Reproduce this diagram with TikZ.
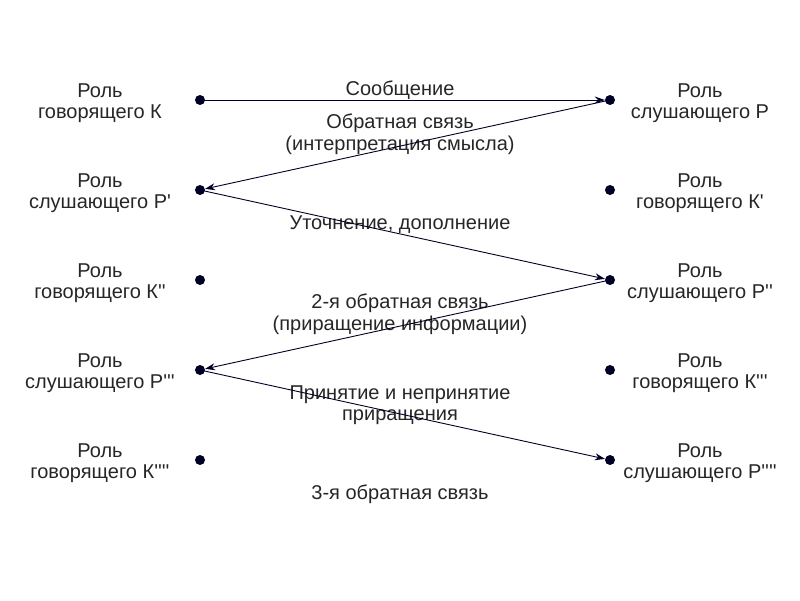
\documentclass[tikz,border=0pt]{standalone}
\usepackage{fontspec}
\setmainfont{Liberation Sans}
\usetikzlibrary{arrows.meta}
\newcommand{\ap}{\textquotesingle}
\begin{document}
\begin{tikzpicture}[x=1pt,y=-1pt,
  dot/.style={circle,fill=black!85!blue,inner sep=0pt,minimum size=10pt},
  lbl/.style={align=center,font=\fontsize{20}{21.5}\selectfont,text=black!85},
  arr/.style={-{Stealth[length=10pt,width=7pt]},draw=black!85!blue,line width=0.9pt}]
\path[use as bounding box] (0,0) rectangle (800,600);
\foreach \i/\y in {1/100,2/190,3/280,4/370,5/460}{
  \node[dot] (L\i) at (200,\y) {};
  \node[dot] (R\i) at (610,\y) {};
}
\node[lbl] (l1) at (100,103) {Роль\\говорящего К};
\node[lbl] (l2) at (100,193) {Роль\\слушающего Р\ap};
\node[lbl] (l3) at (100,283) {Роль\\говорящего К\ap\ap};
\node[lbl] (l4) at (100,373) {Роль\\слушающего Р\ap\ap\ap};
\node[lbl] (l5) at (100,463) {Роль\\говорящего К\ap\ap\ap\ap};
\node[lbl] (r1) at (700,103) {Роль\\слушающего Р};
\node[lbl] (r2) at (700,193) {Роль\\говорящего К\ap};
\node[lbl] (r3) at (700,283) {Роль\\слушающего Р\ap\ap};
\node[lbl] (r4) at (700,373) {Роль\\говорящего К\ap\ap\ap};
\node[lbl] (r5) at (700,463) {Роль\\слушающего Р\ap\ap\ap\ap};
\node[lbl] (m1) at (400,90) {Сообщение};
\node[lbl] (m2) at (400,134) {Обратная связь\\(интерпретация смысла)};
\node[lbl] (m3) at (400,225) {Уточнение, дополнение};
\node[lbl] (m4) at (400,314) {2-я обратная связь\\(приращение информации)};
\node[lbl] (m5) at (400,405) {Принятие и непринятие\\приращения};
\node[lbl] (m6) at (400,494) {3-я обратная связь};
\draw[arr] (L1.center) -- (R1);
\draw[arr] (R1.center) -- (L2);
\draw[arr] (L2.center) -- (R3);
\draw[arr] (R3.center) -- (L4);
\draw[arr] (L4.center) -- (R5);
\end{tikzpicture}
\end{document}
